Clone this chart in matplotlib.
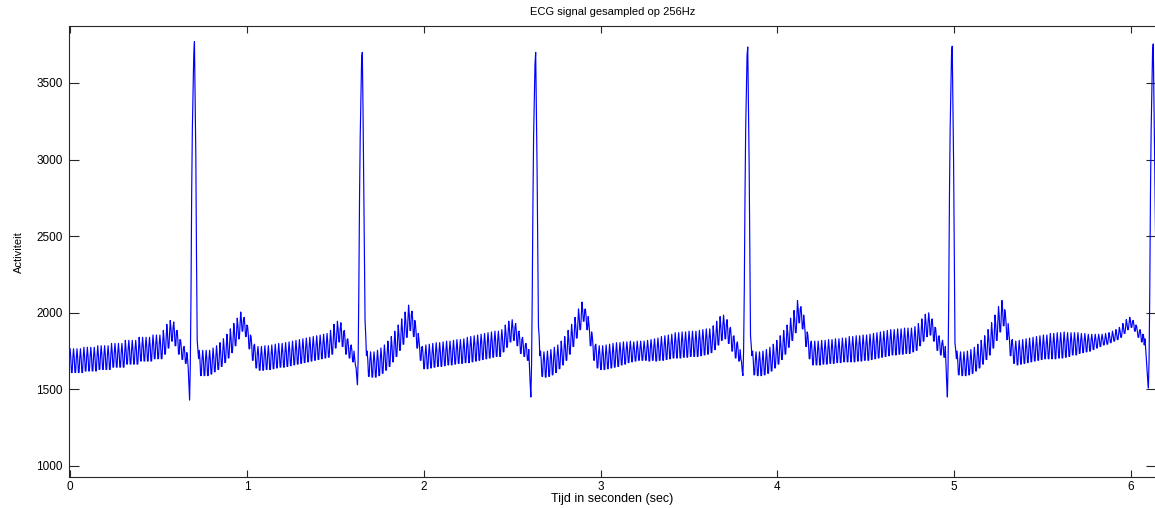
import numpy as np
import matplotlib.pyplot as plt

# sample frequency of the recording
fs = 256

# ECG samples, split per heart beat (each chunk ends just after its R top)
beat1 = [
    1765, 1705, 1610, 1610, 1705, 1765, 1705, 1610, 1610, 1705,
    1765, 1705, 1610, 1610, 1705, 1765, 1705, 1610, 1610, 1705,
    1775, 1715, 1620, 1620, 1715, 1775, 1715, 1620, 1620, 1715,
    1775, 1715, 1620, 1620, 1715, 1775, 1715, 1620, 1620, 1715,
    1785, 1725, 1630, 1630, 1725, 1785, 1725, 1630, 1630, 1725,
    1785, 1725, 1630, 1630, 1725, 1785, 1725, 1630, 1630, 1725,
    1800, 1740, 1645, 1645, 1740, 1800, 1740, 1645, 1645, 1740,
    1800, 1740, 1645, 1645, 1740, 1800, 1740, 1645, 1645, 1740,
    1820, 1760, 1665, 1665, 1760, 1820, 1760, 1665, 1665, 1760,
    1820, 1760, 1665, 1665, 1760, 1820, 1760, 1665, 1665, 1760,
    1840, 1780, 1685, 1685, 1780, 1840, 1780, 1685, 1685, 1780,
    1840, 1780, 1685, 1685, 1780, 1840, 1780, 1685, 1685, 1780,
    1855, 1795, 1700, 1700, 1795, 1855, 1795, 1700, 1700, 1795,
    1855, 1795, 1700, 1700, 1795, 1885, 1825, 1730, 1730, 1825,
    1925, 1865, 1770, 1770, 1865, 1950, 1900, 1815, 1815, 1900,
    1940, 1880, 1785, 1785, 1880, 1885, 1825, 1730, 1730, 1825,
    1820, 1770, 1695, 1695, 1770, 1780, 1740, 1670, 1670, 1740,
    1700,
    1640, 1540, 1430, 1650, 2100, 2780, 3200, 3450, 3680, 3770,
    3400, 3030, 2370, 1820, 1760, 1700,
]

beat2 = [
    1755, 1695, 1590, 1590, 1695, 1755, 1695, 1590, 1590, 1695,
    1755, 1695, 1590, 1590, 1695, 1755, 1695, 1600, 1600, 1695,
    1770, 1710, 1615, 1615, 1710, 1785, 1725, 1630, 1630, 1725,
    1805, 1745, 1650, 1650, 1745, 1830, 1770, 1675, 1675, 1770,
    1860, 1800, 1705, 1705, 1800, 1895, 1835, 1740, 1740, 1835,
    1930, 1875, 1785, 1785, 1875, 1965, 1915, 1830, 1830, 1915,
    2005, 1955, 1880, 1880, 1955, 1970, 1920, 1845, 1845, 1920,
    1910, 1855, 1765, 1765, 1855, 1845, 1785, 1690, 1690, 1785,
    1795, 1735, 1640, 1640, 1735, 1780, 1720, 1625, 1625, 1720,
    1780, 1720, 1625, 1625, 1720, 1785, 1725, 1630, 1630, 1725,
    1785, 1725, 1630, 1630, 1725, 1790, 1730, 1635, 1635, 1730,
    1795, 1735, 1640, 1640, 1735, 1800, 1740, 1645, 1645, 1740,
    1800, 1740, 1645, 1645, 1740, 1805, 1745, 1650, 1650, 1745,
    1810, 1750, 1655, 1655, 1750, 1815, 1755, 1660, 1660, 1755,
    1820, 1760, 1665, 1665, 1760, 1825, 1765, 1670, 1670, 1765,
    1830, 1770, 1675, 1675, 1770, 1835, 1775, 1680, 1680, 1775,
    1840, 1780, 1685, 1685, 1780, 1845, 1785, 1690, 1690, 1785,
    1850, 1790, 1695, 1695, 1790, 1855, 1795, 1700, 1700, 1795,
    1860, 1800, 1705, 1705, 1800, 1865, 1805, 1710, 1710, 1805,
    1885, 1825, 1730, 1730, 1825, 1925, 1865, 1770, 1770, 1865,
    1945, 1895, 1810, 1810, 1895, 1935, 1875, 1780, 1780, 1875,
    1885, 1825, 1730, 1730, 1825, 1830, 1780, 1705, 1705, 1780,
    1790, 1750, 1680, 1680, 1750,
    1700, 1660,
    1640, 1580, 1530, 1700, 2150, 2750, 3150, 3420, 3650, 3700,
    3350, 2900, 2400, 1950, 1850, 1720,
]

beat3 = [
    1750, 1690, 1585, 1585, 1690, 1745, 1685, 1580, 1580, 1685,
    1745, 1685, 1580, 1580, 1685, 1755, 1695, 1590, 1590, 1695,
    1770, 1710, 1605, 1605, 1710, 1790, 1730, 1625, 1625, 1730,
    1815, 1755, 1650, 1650, 1755, 1845, 1785, 1680, 1680, 1785,
    1880, 1820, 1715, 1715, 1820, 1920, 1860, 1755, 1755, 1860,
    1960, 1900, 1795, 1795, 1900, 2005, 1945, 1840, 1840, 1945,
    2050, 1990, 1885, 1885, 1990, 2010, 1950, 1845, 1845, 1950,
    1925, 1865, 1770, 1770, 1865, 1825, 1775, 1690, 1690, 1775,
    1780, 1725, 1635, 1635, 1725,
    1790, 1730, 1635, 1635, 1730, 1795, 1735, 1640, 1640, 1735,
    1800, 1740, 1645, 1645, 1740, 1805, 1745, 1650, 1650, 1745,
    1805, 1745, 1650, 1650, 1745, 1810, 1750, 1655, 1655, 1750,
    1815, 1755, 1660, 1660, 1755, 1815, 1755, 1660, 1660, 1755,
    1820, 1760, 1665, 1665, 1760, 1825, 1765, 1670, 1670, 1765,
    1825, 1765, 1670, 1670, 1765, 1830, 1770, 1675, 1675, 1770,
    1840, 1780, 1675, 1675, 1780, 1845, 1785, 1680, 1680, 1785,
    1850, 1790, 1685, 1685, 1790, 1855, 1795, 1690, 1690, 1795,
    1860, 1800, 1695, 1695, 1800, 1865, 1805, 1700, 1700, 1805,
    1870, 1810, 1705, 1705, 1810, 1875, 1815, 1710, 1710, 1815,
    1880, 1820, 1715, 1715, 1820, 1880, 1820, 1715, 1715, 1820,
    1890, 1835, 1745, 1745, 1835, 1920, 1865, 1775, 1775, 1865,
    1945, 1895, 1810, 1810, 1895, 1955, 1905, 1820, 1820, 1905,
    1930, 1875, 1785, 1785, 1875, 1880, 1825, 1735, 1735, 1825,
    1840, 1790, 1715, 1715, 1790, 1800, 1760, 1690, 1690, 1760,
    1650, 1540, 1450, 1650, 2100, 2700, 3150, 3400, 3620, 3700,
    3350, 2950, 2450, 1910, 1850, 1720,
]

beat4 = [
    1750, 1690, 1585, 1585, 1690, 1745, 1685, 1580, 1580, 1685,
    1750, 1690, 1585, 1585, 1690, 1760, 1700, 1595, 1595, 1700,
    1775, 1715, 1610, 1610, 1715, 1790, 1730, 1635, 1635, 1730,
    1815, 1755, 1660, 1660, 1755, 1845, 1785, 1690, 1690, 1785,
    1885, 1825, 1730, 1730, 1825, 1925, 1870, 1780, 1780, 1870,
    1970, 1920, 1835, 1835, 1920, 2025, 1975, 1890, 1890, 1975,
    2070, 2020, 1945, 1945, 2020, 2025, 1975, 1890, 1890, 1975,
    1930, 1875, 1785, 1785, 1875, 1845, 1785, 1690, 1690, 1785,
    1795, 1735, 1640, 1640, 1735,
    1785, 1725, 1630, 1630, 1725, 1785, 1725, 1630, 1630, 1725,
    1790, 1730, 1635, 1635, 1730, 1795, 1735, 1640, 1640, 1735,
    1800, 1740, 1645, 1645, 1740, 1805, 1745, 1650, 1650, 1745,
    1805, 1750, 1660, 1660, 1750, 1810, 1755, 1665, 1665, 1755,
    1810, 1760, 1675, 1675, 1760, 1815, 1765, 1680, 1680, 1765,
    1810, 1760, 1685, 1685, 1760, 1815, 1765, 1690, 1690, 1765,
    1815, 1765, 1690, 1690, 1765, 1815, 1765, 1690, 1690, 1765,
    1820, 1770, 1685, 1685, 1770, 1825, 1775, 1690, 1690, 1775,
    1830, 1775, 1685, 1685, 1775, 1835, 1780, 1690, 1690, 1780,
    1845, 1785, 1690, 1690, 1785, 1850, 1790, 1695, 1695, 1790,
    1855, 1795, 1700, 1700, 1795, 1860, 1800, 1705, 1705, 1800,
    1870, 1810, 1705, 1705, 1810, 1870, 1810, 1705, 1705, 1810,
    1875, 1815, 1710, 1710, 1815, 1875, 1815, 1710, 1710, 1815,
    1880, 1820, 1715, 1715, 1820, 1880, 1820, 1715, 1715, 1820,
    1880, 1820, 1715, 1715, 1820, 1885, 1825, 1720, 1720, 1825,
    1890, 1830, 1725, 1725, 1830, 1895, 1835, 1730, 1730, 1835,
    1895, 1835, 1740, 1740, 1835, 1915, 1855, 1760, 1760, 1855,
    1945, 1885, 1790, 1790, 1885, 1975, 1915, 1820, 1820, 1915,
    1985, 1925, 1830, 1830, 1925, 1955, 1895, 1800, 1800, 1895,
    1905, 1845, 1750, 1750, 1845, 1850, 1795, 1705, 1705, 1795,
    1810, 1760, 1685, 1685, 1760,
    1700,
    1680, 1620, 1590, 1750, 2150, 2750, 3200, 3450, 3680, 3735,
    3380, 2980, 2400, 1850, 1790, 1720,
]

beat5 = [
    1750, 1690, 1595, 1595, 1690, 1745, 1685, 1590, 1590, 1685,
    1745, 1685, 1590, 1590, 1685, 1750, 1690, 1595, 1595, 1690,
    1760, 1700, 1605, 1605, 1700, 1775, 1715, 1620, 1620, 1715,
    1795, 1735, 1640, 1640, 1735, 1820, 1760, 1665, 1665, 1760,
    1850, 1790, 1695, 1695, 1790, 1885, 1825, 1730, 1730, 1825,
    1920, 1865, 1775, 1775, 1865, 1965, 1910, 1820, 1820, 1910,
    2015, 1960, 1870, 1870, 1960, 2080, 2025, 1935, 1935, 2025,
    2040, 1985, 1895, 1895, 1985, 1935, 1875, 1780, 1780, 1875,
    1855, 1795, 1700, 1700, 1795, 1815, 1755, 1660, 1660, 1755,
    1815, 1755, 1660, 1660, 1755, 1815, 1755, 1660, 1660, 1755,
    1820, 1760, 1665, 1665, 1760, 1820, 1760, 1665, 1665, 1760,
    1825, 1765, 1670, 1670, 1765, 1825, 1765, 1670, 1670, 1765,
    1830, 1770, 1675, 1675, 1770, 1830, 1770, 1675, 1675, 1770,
    1835, 1775, 1680, 1680, 1775, 1835, 1775, 1680, 1680, 1775,
    1845, 1785, 1680, 1680, 1785, 1845, 1785, 1680, 1680, 1785,
    1850, 1790, 1685, 1685, 1790, 1850, 1790, 1685, 1685, 1790,
    1855, 1795, 1690, 1690, 1795, 1855, 1795, 1690, 1690, 1795,
    1860, 1800, 1695, 1695, 1800, 1865, 1805, 1700, 1700, 1805,
    1870, 1810, 1705, 1705, 1810, 1875, 1815, 1710, 1710, 1815,
    1880, 1820, 1715, 1715, 1820, 1885, 1825, 1720, 1720, 1825,
    1890, 1830, 1725, 1725, 1830, 1890, 1830, 1725, 1725, 1830,
    1895, 1835, 1730, 1730, 1835, 1895, 1835, 1730, 1730, 1835,
    1900, 1840, 1735, 1735, 1840, 1900, 1840, 1735, 1735, 1840,
    1900, 1840, 1745, 1745, 1840, 1910, 1850, 1755, 1755, 1850,
    1930, 1875, 1785, 1785, 1875, 1960, 1905, 1815, 1815, 1905,
    1990, 1935, 1845, 1845, 1935, 2000, 1945, 1855, 1855, 1945,
    1960, 1905, 1815, 1815, 1905, 1900, 1845, 1755, 1755, 1845,
    1850, 1800, 1725, 1725, 1800, 1820, 1780, 1710, 1710, 1780,
    1650, 1540, 1450, 1660, 2120, 2760, 3200, 3460, 3690, 3740,
    3380, 2980, 2400, 1800, 1760, 1700,
]

beat6 = [
    1750, 1690, 1595, 1595, 1690, 1745, 1685, 1590, 1590, 1685,
    1745, 1685, 1590, 1590, 1685, 1750, 1690, 1595, 1595, 1690,
    1760, 1700, 1605, 1605, 1700, 1775, 1715, 1620, 1620, 1715,
    1795, 1735, 1640, 1640, 1735, 1820, 1760, 1665, 1665, 1760,
    1850, 1790, 1695, 1695, 1790, 1890, 1830, 1725, 1725, 1830,
    1935, 1875, 1770, 1770, 1875, 1985, 1925, 1820, 1820, 1925,
    2040, 1980, 1875, 1875, 1980, 2080, 2020, 1915, 1915, 2020,
    1990, 1930, 1825, 1825, 1930, 1875, 1815, 1720, 1720, 1815,
    1825, 1765, 1670, 1670, 1765,
    1815, 1755, 1660, 1660, 1755, 1820, 1760, 1665, 1665, 1760,
    1825, 1765, 1670, 1670, 1765, 1830, 1770, 1675, 1675, 1770,
    1835, 1775, 1680, 1680, 1775, 1840, 1780, 1685, 1685, 1780,
    1845, 1785, 1690, 1690, 1785, 1850, 1790, 1695, 1695, 1790,
    1855, 1795, 1700, 1700, 1795, 1855, 1795, 1700, 1700, 1795,
    1865, 1805, 1700, 1700, 1805, 1865, 1805, 1700, 1700, 1805,
    1870, 1810, 1705, 1705, 1810, 1870, 1810, 1705, 1705, 1810,
    1875, 1815, 1710, 1710, 1815, 1870, 1810, 1715, 1715, 1810,
    1870, 1815, 1725, 1725, 1815, 1870, 1815, 1725, 1725, 1815,
    1870, 1820, 1735, 1735, 1820, 1865, 1815, 1740, 1740, 1815,
    1865, 1820, 1745, 1745, 1820, 1860, 1820, 1750, 1750, 1820,
    1860, 1820, 1760, 1760, 1820, 1860, 1825, 1770, 1770, 1825,
    1860, 1830, 1780, 1780, 1830, 1860, 1830, 1790, 1790, 1830,
    1865, 1835, 1795, 1795, 1835, 1870, 1845, 1805, 1805, 1845,
    1880, 1855, 1815, 1815, 1855, 1890, 1865, 1825, 1825, 1865,
    1905, 1880, 1840, 1840, 1880, 1930, 1905, 1865, 1865, 1905,
    1955, 1930, 1890, 1890, 1930, 1970, 1945, 1905, 1905, 1945,
    1950, 1920, 1880, 1880, 1920, 1910, 1880, 1840, 1840, 1880,
    1890, 1860, 1810, 1810, 1860,
    1850, 1790, 1830, 1770, 1700,
    1620, 1560, 1509, 1700, 2150, 2780, 3200, 3470, 3700, 3755,
    3400, 3030, 2620, 2300,
]

activiteit = np.concatenate([beat1, beat2, beat3, beat4, beat5, beat6])
tijd = np.arange(len(activiteit)) / fs

plt.rcParams['font.family'] = ['Liberation Sans', 'DejaVu Sans']

W, H = 1155, 508
fig = plt.figure(figsize=(W / 100, H / 100), dpi=100)
ax = fig.add_axes([68.5 / W, 30.7 / H, 1087.5 / W, 451.3 / H])

ax.plot(tijd, activiteit, color='#0000ff', lw=0.85)

ax.set_xlim(-0.009, tijd[-1])
ax.set_ylim(926, 3872)
ax.set_xticks(range(0, 7))
ax.set_yticks(range(1000, 3501, 500))
ax.tick_params(direction='in', top=True, right=True, labelsize=8.5,
               width=0.8, color='#262626', pad=4)
ax.tick_params(axis='x', length=5, pad=3)
ax.tick_params(axis='y', length=7)
for s in ax.spines.values():
    s.set_color('#262626')
    s.set_linewidth(0.8)

ax.set_title('ECG signal gesampled op 256Hz', fontsize=8, pad=8)
ax.set_xlabel('Tijd in seconden (sec)', fontsize=9, labelpad=0)
ax.set_ylabel('Activiteit', fontsize=8, labelpad=9)

fig.savefig('out.png', dpi=100)
